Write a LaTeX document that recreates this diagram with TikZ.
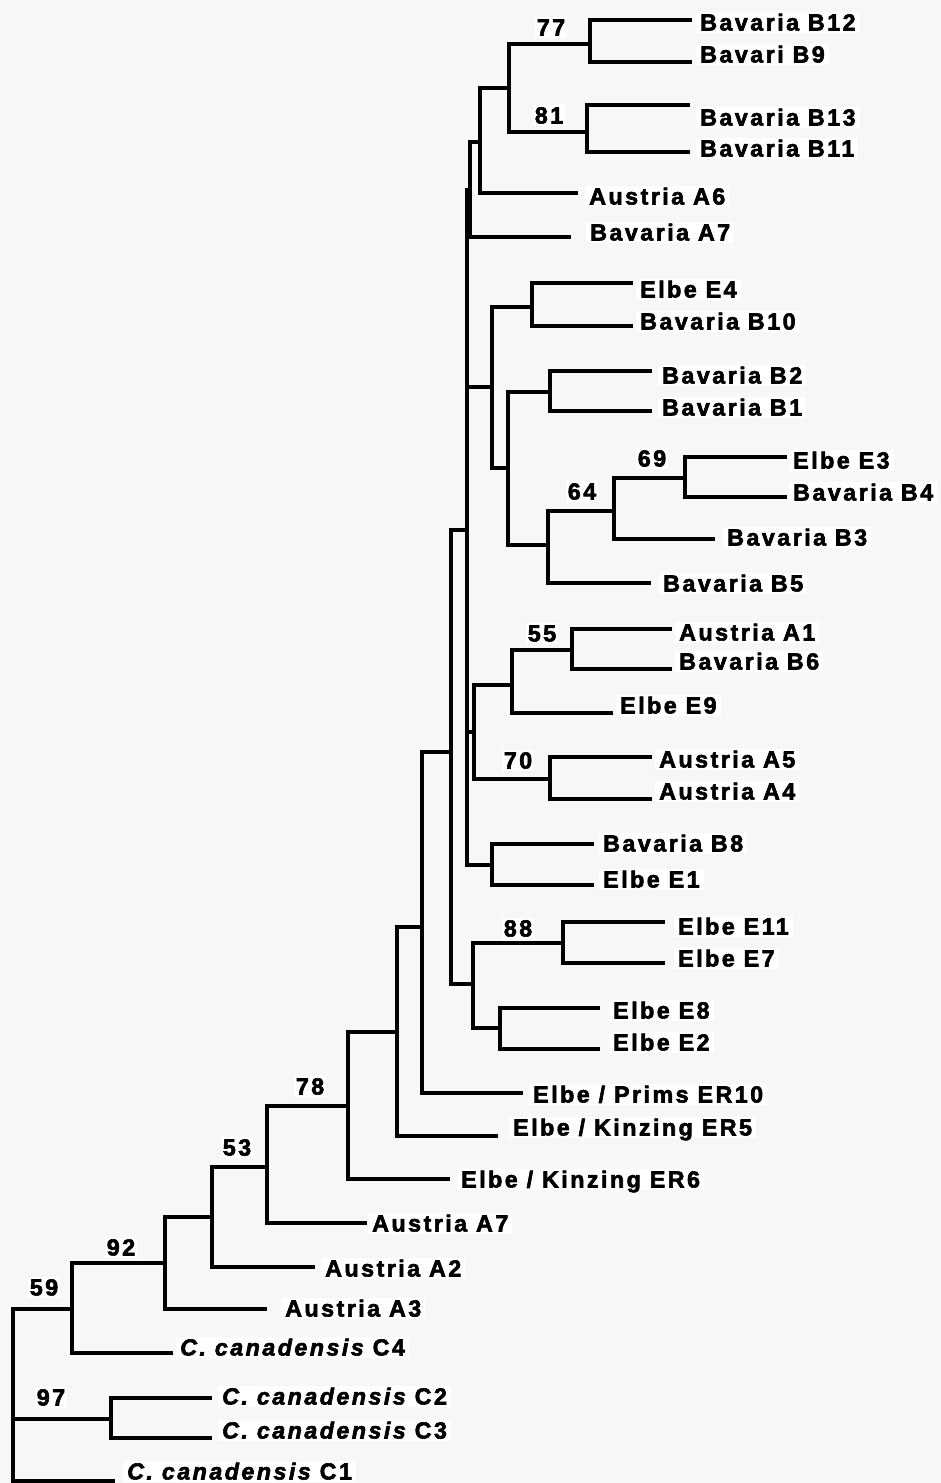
\documentclass[tikz,border=0pt]{standalone}
\usepackage{fontspec}
\setmainfont{Liberation Sans}[LetterSpace=10.5, BoldFeatures={FakeBold=2.5},
  BoldItalicFeatures={FakeBold=2.5}]

\begin{document}
\begin{tikzpicture}[
    x=1pt, y=-1pt,
    branch/.style={line width=3.3pt},
    taxon/.style={anchor=west, xshift=-4pt, fill=white, inner xsep=4pt,
                  inner ysep=2pt, text height=17pt, text depth=0pt,
                  font=\bfseries\fontsize{23.3}{26}\selectfont},
    boot/.style={fill=white, inner sep=2pt, text height=17pt, text depth=0pt,
                 font=\bfseries\fontsize{23.3}{26}\selectfont}
  ]
  \useasboundingbox (0,0) rectangle (941,1483);
  \fill[black!3] (0,0) rectangle (941,1483);

  % inner nodes
  \coordinate (n77)    at (590,44);
  \coordinate (n81)    at (587,132);
  \coordinate (nB)     at (509,88);
  \coordinate (nA6)    at (480,142);
  \coordinate (nBA7)   at (470,190);
  \coordinate (nE4)    at (532,307);
  \coordinate (nB2)    at (550,392);
  \coordinate (n69)    at (685,478);
  \coordinate (n64)    at (614,511);
  \coordinate (nB5)    at (548,545);
  \coordinate (nB1grp) at (508,468);
  \coordinate (nE4grp) at (492,387);
  \coordinate (n55)    at (572,650);
  \coordinate (nE9)    at (512,685);
  \coordinate (n70)    at (550,779);
  \coordinate (nA)     at (474,732);
  \coordinate (nB8)    at (492,865);
  \coordinate (nBig)   at (467,530);
  \coordinate (n88)    at (563,943);
  \coordinate (nE8)    at (500,1028);
  \coordinate (nE)     at (473,984);
  \coordinate (nCore)  at (451,752);
  \coordinate (nER10)  at (422,927);
  \coordinate (nER5)   at (397,1032);
  \coordinate (n78)    at (348,1106);
  \coordinate (n53)    at (267,1167);
  \coordinate (nA2)    at (212,1217);
  \coordinate (n92)    at (165,1263);
  \coordinate (n59)    at (72,1309);
  \coordinate (n97)    at (111,1419);
  \coordinate (root)   at (13,1419);

  % tips and taxa
  \coordinate (tB12) at (692,20);   \node[taxon] (B12) at (700,22) {Bavaria B12};
  \coordinate (tB9)  at (692,62);   \node[taxon] (B9)  at (700,54) {Bavari B9};
  \coordinate (tB13) at (690,105);  \node[taxon] (B13) at (700,117) {Bavaria B13};
  \coordinate (tB11) at (690,152);  \node[taxon] (B11) at (700,148) {Bavaria B11};
  \coordinate (tA6)  at (578,193);  \node[taxon] (A6)  at (589,196) {Austria A6};
  \coordinate (tBA7) at (571,237);  \node[taxon] (BA7) at (590,232) {Bavaria A7};
  \coordinate (tE4)  at (633,283);  \node[taxon] (E4)  at (640,289) {Elbe E4};
  \coordinate (tB10) at (633,326);  \node[taxon] (B10) at (640,321) {Bavaria B10};
  \coordinate (tB2)  at (652,371);  \node[taxon] (B2)  at (662,375) {Bavaria B2};
  \coordinate (tB1)  at (652,411);  \node[taxon] (B1)  at (662,407) {Bavaria B1};
  \coordinate (tE3)  at (787,457);  \node[taxon] (E3)  at (793,460) {Elbe E3};
  \coordinate (tB4)  at (787,497);  \node[taxon] (B4)  at (793,492) {Bavaria B4};
  \coordinate (tB3)  at (715,539);  \node[taxon] (B3)  at (727,537) {Bavaria B3};
  \coordinate (tB5)  at (651,583);  \node[taxon] (B5)  at (663,583) {Bavaria B5};
  \coordinate (tA1)  at (672,629);  \node[taxon] (A1)  at (679,632) {Austria A1};
  \coordinate (tB6)  at (672,669);  \node[taxon] (B6)  at (679,661) {Bavaria B6};
  \coordinate (tE9)  at (613,713);  \node[taxon] (E9)  at (620,705) {Elbe E9};
  \coordinate (tA5)  at (652,757);  \node[taxon] (A5)  at (659,759) {Austria A5};
  \coordinate (tA4)  at (652,799);  \node[taxon] (A4)  at (659,791) {Austria A4};
  \coordinate (tB8)  at (594,844);  \node[taxon] (B8)  at (603,843) {Bavaria B8};
  \coordinate (tE1)  at (594,885);  \node[taxon] (E1)  at (603,879) {Elbe E1};
  \coordinate (tE11) at (665,922);  \node[taxon] (E11) at (678,926) {Elbe E11};
  \coordinate (tE7)  at (665,963);  \node[taxon] (E7)  at (678,958) {Elbe E7};
  \coordinate (tE8)  at (600,1008); \node[taxon] (E8)  at (613,1010) {Elbe E8};
  \coordinate (tE2)  at (600,1049); \node[taxon] (E2)  at (613,1042) {Elbe E2};
  \coordinate (tER10) at (523,1093); \node[taxon] (ER10) at (533,1094) {Elbe / Prims ER10};
  \coordinate (tER5) at (498,1136); \node[taxon] (ER5) at (513,1127) {Elbe / Kinzing ER5};
  \coordinate (tER6) at (450,1179); \node[taxon] (ER6) at (461,1179) {Elbe / Kinzing ER6};
  \coordinate (tAA7) at (367,1223); \node[taxon] (AA7) at (372,1223) {Austria A7};
  \coordinate (tA2)  at (315,1267); \node[taxon] (A2)  at (325,1268) {Austria A2};
  \coordinate (tA3)  at (267,1309); \node[taxon] (A3)  at (285,1308) {Austria A3};
  \coordinate (tC4)  at (173,1353); \node[taxon] (C4)  at (180,1347) {\itshape C. canadensis\upshape{} C4};
  \coordinate (tC2)  at (212,1398); \node[taxon] (C2)  at (222,1396) {\itshape C. canadensis\upshape{} C2};
  \coordinate (tC3)  at (212,1438); \node[taxon] (C3)  at (222,1430) {\itshape C. canadensis\upshape{} C3};
  \coordinate (tC1)  at (115,1481); \node[taxon] (C1)  at (127,1471) {\itshape C. canadensis\upshape{} C1};

  % branches
  \draw[branch] (n77) |- (tB12) (n77) |- (tB9);
  \draw[branch] (n81) |- (tB13) (n81) |- (tB11);
  \draw[branch] (nB) |- (n77) (nB) |- (n81);
  \draw[branch] (nA6) |- (nB) (nA6) |- (tA6);
  \draw[branch] (nBA7) |- (nA6) (nBA7) |- (tBA7);
  \draw[branch] (nE4) |- (tE4) (nE4) |- (tB10);
  \draw[branch] (nB2) |- (tB2) (nB2) |- (tB1);
  \draw[branch] (n69) |- (tE3) (n69) |- (tB4);
  \draw[branch] (n64) |- (n69) (n64) |- (tB3);
  \draw[branch] (nB5) |- (n64) (nB5) |- (tB5);
  \draw[branch] (nB1grp) |- (nB2) (nB1grp) |- (nB5);
  \draw[branch] (nE4grp) |- (nE4) (nE4grp) |- (nB1grp);
  \draw[branch] (n55) |- (tA1) (n55) |- (tB6);
  \draw[branch] (nE9) |- (n55) (nE9) |- (tE9);
  \draw[branch] (n70) |- (tA5) (n70) |- (tA4);
  \draw[branch] (nA) |- (nE9) (nA) |- (n70);
  \draw[branch] (nB8) |- (tB8) (nB8) |- (tE1);
  \draw[branch] (nBig) |- (nBA7) (nBig) |- (nE4grp) (nBig) |- (nA) (nBig) |- (nB8);
  \draw[branch] (n88) |- (tE11) (n88) |- (tE7);
  \draw[branch] (nE8) |- (tE8) (nE8) |- (tE2);
  \draw[branch] (nE) |- (n88) (nE) |- (nE8);
  \draw[branch] (nCore) |- (nBig) (nCore) |- (nE);
  \draw[branch] (nER10) |- (nCore) (nER10) |- (tER10);
  \draw[branch] (nER5) |- (nER10) (nER5) |- (tER5);
  \draw[branch] (n78) |- (nER5) (n78) |- (tER6);
  \draw[branch] (n53) |- (n78) (n53) |- (tAA7);
  \draw[branch] (nA2) |- (n53) (nA2) |- (tA2);
  \draw[branch] (n92) |- (nA2) (n92) |- (tA3);
  \draw[branch] (n59) |- (n92) (n59) |- (tC4);
  \draw[branch] (n97) |- (tC2) (n97) |- (tC3);
  \draw[branch] (root) |- (n59) (root) |- (n97) (root) |- (tC1);

  % bootstrap values
  \node[boot] (b77) at (551,27) {77};
  \node[boot] (b81) at (549,115) {81};
  \node[boot] (b69) at (652,458) {69};
  \node[boot] (b64) at (582,491) {64};
  \node[boot] (b55) at (542,633) {55};
  \node[boot] (b70) at (518,760) {70};
  \node[boot] (b88) at (518,928) {88};
  \node[boot] (b78) at (310,1086) {78};
  \node[boot] (b53) at (237,1147) {53};
  \node[boot] (b92) at (121,1247) {92};
  \node[boot] (b59) at (44,1287) {59};
  \node[boot] (b97) at (51,1397) {97};
\end{tikzpicture}
\end{document}
